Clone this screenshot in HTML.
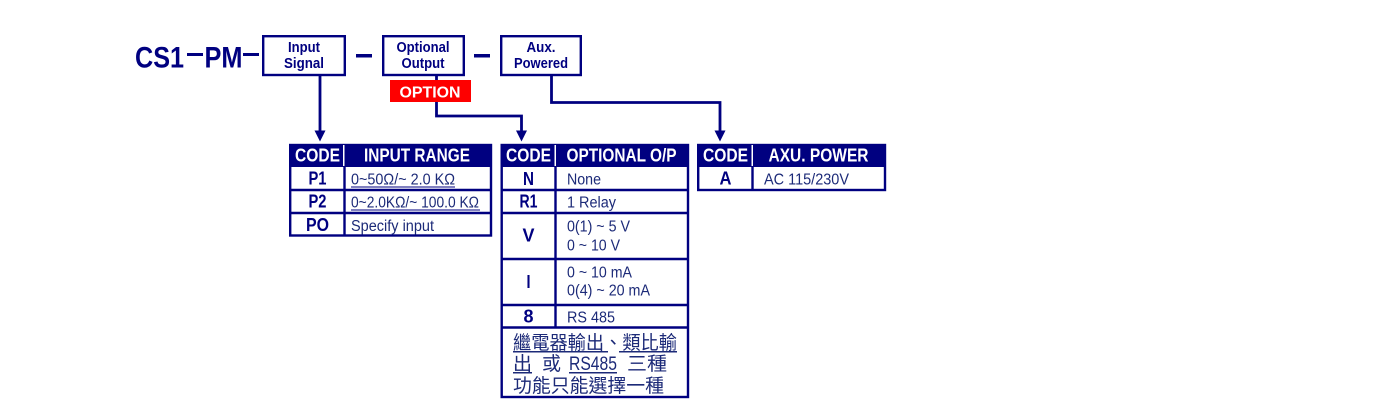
<!DOCTYPE html>
<html><head><meta charset="utf-8">
<style>
html,body{margin:0;padding:0;background:#fff;width:1382px;height:402px;overflow:hidden}
svg{display:block;position:absolute;left:0;top:0}
text{font-family:"Liberation Sans","Noto Sans CJK TC",sans-serif;fill:#000080}
.b{font-weight:bold}
.w{fill:#fff;font-weight:bold}
.c{text-anchor:middle}
.t{fill:#1c2a78;font-size:15.500px}
.k{font-weight:bold;font-size:18.500px;text-anchor:middle}
.h{fill:#fff;font-weight:bold;font-size:18px;text-anchor:middle}
.n{font-size:19px;fill:#1c2a78}
</style></head><body>
<svg width="1382" height="402" viewBox="0 0 1382 402" xmlns="http://www.w3.org/2000/svg">
<rect width="1382" height="402" fill="#fff"/>
<g fill="none" stroke="#000080" stroke-width="2.400">
<rect x="263.200" y="36.200" width="81.600" height="38.800"/>
<rect x="383.200" y="36.200" width="80.600" height="38.800"/>
<rect x="501.200" y="36.200" width="79.600" height="38.800"/>
</g>
<g fill="none" stroke="#000080" stroke-width="2.800">
<path d="M320 76V133M436.500 76V116H521.500V133M551.500 76V102.500H720V133"/>
</g>
<g fill="#000080">
<polygon points="314.500,130.500 325.500,130.500 320,141.500"/>
<polygon points="516,130.500 527,130.500 521.500,141.500"/>
<polygon points="714.500,130.500 725.500,130.500 720,141.500"/>
<rect x="187" y="53" width="16" height="3"/>
<rect x="243" y="53" width="16" height="3"/>
<rect x="356" y="54" width="16" height="3.500"/>
<rect x="474" y="54" width="16" height="3.500"/>
</g>
<text class="b" x="135" y="67.500" font-size="30" textLength="49" lengthAdjust="spacingAndGlyphs">CS1</text>
<text class="b" x="204.500" y="67.500" font-size="30" textLength="38" lengthAdjust="spacingAndGlyphs">PM</text>
<text class="b c" x="304" y="52" font-size="14.500" textLength="32" lengthAdjust="spacingAndGlyphs">Input</text>
<text class="b c" x="304" y="68" font-size="14.500" textLength="40" lengthAdjust="spacingAndGlyphs">Signal</text>
<text class="b c" x="423" y="52" font-size="14.500" textLength="53" lengthAdjust="spacingAndGlyphs">Optional</text>
<text class="b c" x="423" y="68" font-size="14.500" textLength="43" lengthAdjust="spacingAndGlyphs">Output</text>
<text class="b c" x="541" y="52" font-size="14.500" textLength="29" lengthAdjust="spacingAndGlyphs">Aux.</text>
<text class="b c" x="541" y="68" font-size="14.500" textLength="54" lengthAdjust="spacingAndGlyphs">Powered</text>
<rect x="390" y="80" width="81" height="22" fill="#fe0000"/>
<text class="w c" x="430" y="97.500" font-size="16" textLength="61" lengthAdjust="spacingAndGlyphs">OPTION</text>

<!-- Table 1 -->
<g fill="none" stroke="#000080" stroke-width="2.400">
<rect x="290.200" y="145" width="200.800" height="90.500"/>
<path d="M290 190H491M290 213H491M344.500 167V235"/>
</g>
<rect x="289" y="144" width="203" height="23" fill="#000080"/>
<rect x="343" y="145" width="1.500" height="21" fill="#fff"/>
<text class="h" x="317.500" y="161.500" textLength="45" lengthAdjust="spacingAndGlyphs">CODE</text>
<text class="h" x="417" y="161.500" textLength="106" lengthAdjust="spacingAndGlyphs">INPUT RANGE</text>
<text class="k" x="317.500" y="184.500" textLength="18" lengthAdjust="spacingAndGlyphs">P1</text>
<text class="k" x="317.500" y="207.500" textLength="18" lengthAdjust="spacingAndGlyphs">P2</text>
<text class="k" x="317.500" y="231" textLength="23" lengthAdjust="spacingAndGlyphs">PO</text>
<text class="t" x="351" y="184.500" textLength="104" lengthAdjust="spacingAndGlyphs">0~50Ω/~ 2.0 KΩ</text>
<rect x="351" y="186.500" width="104" height="1" fill="#000080"/>
<text class="t" x="351" y="207.500" textLength="128" lengthAdjust="spacingAndGlyphs">0~2.0KΩ/~ 100.0 KΩ</text>
<rect x="351" y="209.500" width="129" height="1" fill="#000080"/>
<text class="t" x="351" y="231" textLength="83" lengthAdjust="spacingAndGlyphs">Specify input</text>

<!-- Table 2 -->
<g fill="none" stroke="#000080" stroke-width="2.400">
<rect x="501.700" y="145" width="186.300" height="252"/>
<path d="M501 190H688M501 213H688M501 259H688M501 305H688M501 327.500H688M555.500 167V327"/>
</g>
<rect x="500.500" y="144" width="188.500" height="23" fill="#000080"/>
<rect x="554.500" y="145" width="1.500" height="21" fill="#fff"/>
<text class="h" x="528.500" y="161.500" textLength="45" lengthAdjust="spacingAndGlyphs">CODE</text>
<text class="h" x="621.500" y="161.500" textLength="110" lengthAdjust="spacingAndGlyphs">OPTIONAL O/P</text>
<text class="k" x="528.500" y="185" textLength="11" lengthAdjust="spacingAndGlyphs">N</text>
<text class="k" x="528.500" y="207.500" textLength="18" lengthAdjust="spacingAndGlyphs">R1</text>
<text class="k" x="528.500" y="241.500" textLength="12" lengthAdjust="spacingAndGlyphs">V</text>
<text class="k" x="528.500" y="288" textLength="4" lengthAdjust="spacingAndGlyphs">I</text>
<text class="k" x="528.500" y="322.500" textLength="10" lengthAdjust="spacingAndGlyphs">8</text>
<text class="t" x="567" y="184.500" textLength="34" lengthAdjust="spacingAndGlyphs">None</text>
<text class="t" x="567" y="207.500" textLength="49" lengthAdjust="spacingAndGlyphs">1 Relay</text>
<text class="t" x="567" y="231.500" textLength="63" lengthAdjust="spacingAndGlyphs">0(1) ~ 5 V</text>
<text class="t" x="567" y="250.500" textLength="53" lengthAdjust="spacingAndGlyphs">0 ~ 10 V</text>
<text class="t" x="567" y="277.500" textLength="65" lengthAdjust="spacingAndGlyphs">0 ~ 10 mA</text>
<text class="t" x="567" y="295.500" textLength="83" lengthAdjust="spacingAndGlyphs">0(4) ~ 20 mA</text>
<text class="t" x="567" y="322.500" textLength="48" lengthAdjust="spacingAndGlyphs">RS 485</text>
<text class="n" x="513" y="349" textLength="164" lengthAdjust="spacingAndGlyphs">繼電器輸出、類比輸</text>
<rect x="513" y="351" width="95" height="1.500" fill="#1c2a78"/>
<rect x="619" y="351" width="58" height="1.500" fill="#1c2a78"/>
<text class="n" x="513" y="370">出</text>
<rect x="513" y="372" width="19" height="1.500" fill="#1c2a78"/>
<text class="n" x="542" y="370">或</text>
<text class="n" x="569" y="370" font-size="20" textLength="48" lengthAdjust="spacingAndGlyphs">RS485</text>
<rect x="569" y="372" width="48" height="1.500" fill="#1c2a78"/>
<text class="n" x="627" y="370" textLength="40" lengthAdjust="spacingAndGlyphs">三種</text>
<text class="n" x="513" y="392" textLength="151" lengthAdjust="spacingAndGlyphs">功能只能選擇一種</text>

<!-- Table 3 -->
<g fill="none" stroke="#000080" stroke-width="2.400">
<rect x="698.200" y="145" width="186.800" height="45"/>
<path d="M752.500 167V190"/>
</g>
<rect x="697" y="144" width="189" height="23" fill="#000080"/>
<rect x="751.500" y="145" width="1.500" height="21" fill="#fff"/>
<text class="h" x="725.500" y="161.500" textLength="45" lengthAdjust="spacingAndGlyphs">CODE</text>
<text class="h" x="818.500" y="161.500" textLength="100" lengthAdjust="spacingAndGlyphs">AXU. POWER</text>
<text class="k" x="725.500" y="184.500" textLength="12" lengthAdjust="spacingAndGlyphs">A</text>
<text class="t" x="764" y="184.500" textLength="85" lengthAdjust="spacingAndGlyphs">AC 115/230V</text>
</svg>
</body></html>
